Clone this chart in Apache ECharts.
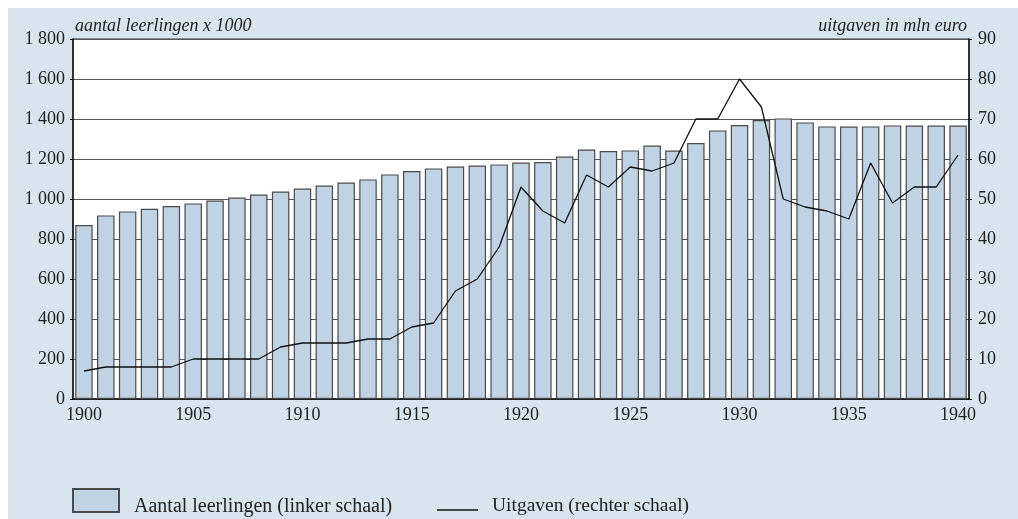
<!DOCTYPE html>
<html lang="nl">
  <head>
    <meta charset="UTF-8" />
    <title>Leerlingen en uitgaven 1900-1940</title>
    <script src="https://cdn.jsdelivr.net/npm/echarts@6/dist/echarts.min.js"></script>
    <style>
      body { margin: 0; background: #ffffff; }
      #chart { position: absolute; left: 8px; top: 8px; width: 1010px; height: 511px; }
    </style>
  </head>
  <body>
    <div id="chart"></div>
    <script>
      // jaren (categorieen)
      const years = [
        "1900", "1901", "1902", "1903", "1904", "1905", "1906", "1907", "1908", "1909",
        "1910", "1911", "1912", "1913", "1914", "1915", "1916", "1917", "1918", "1919",
        "1920", "1921", "1922", "1923", "1924", "1925", "1926", "1927", "1928", "1929",
        "1930", "1931", "1932", "1933", "1934", "1935", "1936", "1937", "1938", "1939",
        "1940"
      ];

      // aantal leerlingen x 1000 (linker schaal)
      const pupils = [
        870, 918, 938, 951, 965, 978, 992, 1007, 1022, 1037,
        1052, 1067, 1082, 1098, 1123, 1140, 1153, 1162, 1167, 1173,
        1182, 1185, 1212, 1247, 1240, 1243, 1267, 1242, 1280, 1343,
        1370, 1395, 1403, 1383, 1363, 1362, 1363, 1368, 1367, 1367,
        1367
      ];

      // uitgaven in mln euro (rechter schaal)
      const spending = [
        7, 8, 8, 8, 8, 10, 10, 10, 10, 13,
        14, 14, 14, 15, 15, 18, 19, 27, 30, 38,
        53, 47, 44, 56, 53, 58, 57, 59, 70, 70,
        80, 73, 50, 48, 47, 45, 59, 49, 53, 53,
        61
      ];

      const barName = "Aantal leerlingen (linker schaal)";
      const lineName = "Uitgaven (rechter schaal)";
      const serif = "'Liberation Serif', 'DejaVu Serif', serif";

      const chart = echarts.init(document.getElementById("chart"));

      chart.setOption({
        animation: false,
        backgroundColor: "#d8e4ee",
        textStyle: { fontFamily: serif, color: "#222" },
        grid: {
          left: 65, right: 49, top: 31, bottom: 120,
          show: true, backgroundColor: "#ffffff",
          borderColor: "#333", borderWidth: 1
        },
        legend: [
          {
            data: [barName], left: 64, top: 480, padding: 0,
            itemWidth: 46, itemHeight: 23, icon: "rect",
            selectedMode: false,
            formatter: "{t|{name}}",
            textStyle: {
              fontFamily: serif, fontSize: 20, color: "#222", padding: [0, 0, 0, 10],
              rich: { t: { fontFamily: serif, fontSize: 20, color: "#222", padding: [12, 0, 0, 0] } }
            }
          },
          {
            data: [lineName], left: 429, top: 488, padding: 0,
            itemWidth: 41, itemHeight: 1.5, icon: "rect",
            itemStyle: { color: "#111", borderWidth: 0 },
            selectedMode: false,
            formatter: "{t|{name}}",
            textStyle: {
              fontFamily: serif, fontSize: 19.5, color: "#222", padding: [0, 0, 0, 9],
              rich: { t: { fontFamily: serif, fontSize: 19.5, color: "#222", padding: [0, 0, 8, 0] } }
            }
          }
        ],
        xAxis: {
          type: "category",
          data: years,
          axisLine: { lineStyle: { color: "#111", width: 1.5 } },
          axisTick: { show: false },
          axisLabel: { interval: 4, fontSize: 18, color: "#222", margin: 7 }
        },
        yAxis: [
          {
            type: "value", min: 0, max: 1800, interval: 200,
            name: "aantal leerlingen x 1000",
            nameLocation: "end", nameGap: 13,
            nameTextStyle: { fontFamily: serif, fontStyle: "italic", fontSize: 18, color: "#222", align: "left", verticalAlign: "middle", padding: [0, 0, 0, 2] },
            axisLine: { show: true, lineStyle: { color: "#111", width: 1.5 } },
            axisTick: { show: true, length: 3, lineStyle: { color: "#111" } },
            axisLabel: {
              fontSize: 18, color: "#222", margin: 8,
              formatter: v => String(v).replace(/\B(?=(\d{3})+(?!\d))/g, " ")
            },
            splitLine: { lineStyle: { color: "#555", width: 1 } }
          },
          {
            type: "value", min: 0, max: 90, interval: 10,
            name: "uitgaven in mln euro",
            nameLocation: "end", nameGap: 13,
            nameTextStyle: { fontFamily: serif, fontStyle: "italic", fontSize: 18, color: "#222", align: "right", verticalAlign: "middle", padding: [0, 2, 0, 0] },
            axisLine: { show: true, lineStyle: { color: "#111", width: 1.5 } },
            axisTick: { show: true, length: 3, lineStyle: { color: "#111" } },
            axisLabel: { fontSize: 18, color: "#222", margin: 9 },
            splitLine: { show: false }
          }
        ],
        series: [
          {
            name: barName,
            type: "bar",
            data: pupils,
            barCategoryGap: "20%",
            itemStyle: { color: "#bfd3e4", borderColor: "#4a4a4a", borderWidth: 1.2 },
            emphasis: { disabled: true }
          },
          {
            name: lineName,
            type: "line",
            yAxisIndex: 1,
            data: spending,
            symbol: "none",
            lineStyle: { color: "#111", width: 1.3 },
            itemStyle: { color: "#111" },
            emphasis: { disabled: true }
          }
        ]
      });
    </script>
  </body>
</html>
